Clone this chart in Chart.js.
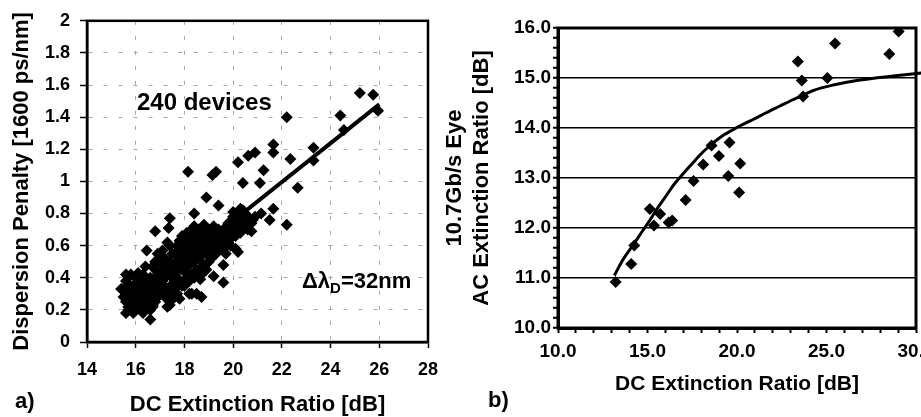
<!DOCTYPE html>
<html>
<head>
<meta charset="utf-8">
<script src="https://cdn.jsdelivr.net/npm/chart.js@4.4.0/dist/chart.umd.min.js"></script>
<style>
  html, body { margin: 0; padding: 0; background: #fff; overflow: hidden; width: 921px; height: 417px; }
  #wrapA { position: absolute; left: 0; top: 0; width: 460px; height: 417px; }
  #wrapB { position: absolute; left: 436px; top: 0; width: 520px; height: 417px; }
  .note { position: absolute; font-family: 'Liberation Sans', Arial, sans-serif; font-weight: bold;
          color: #000; line-height: 1; white-space: nowrap; }
  .note sub { font-size: 15px; vertical-align: -5px; line-height: 1; }
</style>
</head>
<body>
<div id="wrapA"><canvas id="chartA" width="460" height="417"></canvas></div>
<div id="wrapB"><canvas id="chartB" width="520" height="417"></canvas></div>
<div class="note" style="left:137px; top:90px; font-size:24px;">240 devices</div>
<div class="note" style="left:302px; top:270px; font-size:22px;">&Delta;&lambda;<sub>D</sub>=32nm</div>
<div class="note" style="left:15px; top:390px; font-size:22px;">a)</div>
<div class="note" style="left:488px; top:389px; font-size:22px;">b)</div>
<script>
// a) dispersion penalty vs DC extinction ratio, 240 devices  [dc, penalty]
const devicePoints = [
  [25.2,1.55],[25.75,1.54],[22.2,1.40],[24.4,1.41],[24.55,1.32],[25.95,1.44],
  [21.65,1.23],[21.65,1.18],[20.62,1.16],[20.9,1.18],[20.2,1.12],[22.35,1.14],
  [23.3,1.21],[23.3,1.13],[21.25,1.07],[18.15,1.06],[19.15,1.04],[19.3,1.06],
  [20.4,0.99],[21.1,0.99],[22.65,0.96],[18.9,0.9],[19.4,0.85],[18.4,0.8],
  [21.65,0.83],[21.15,0.8],[21.5,0.76],[22.2,0.73],[20.3,0.83],[20.0,0.81],
  [19.2,0.41],[19.6,0.37],[18.7,0.28],[19.6,0.48],[20.1,0.58],[20.2,0.56],
  [20.3,0.68],[20.75,0.69],[20.75,0.74],[15.4,0.33],[15.6,0.18],[16.6,0.14],
  [17.4,0.23],[16.7,0.22],[15.9,0.26],[16.25,0.2],[18.5,0.3],[18.3,0.3],
  [18.65,0.39],[16.45,0.57],[16.8,0.69],[17.4,0.77],[17.35,0.71],
  [15.5,0.33],[15.6,0.38],[15.7,0.3],[15.8,0.42],[15.9,0.35],[15.6,0.25],[15.8,0.22],[15.9,0.28],
  [16.0,0.4],[16.0,0.2],[15.7,0.2],[15.5,0.28],[16.0,0.31],[15.9,0.18],[15.8,0.33],
  [16.1,0.36],[16.2,0.27],[16.3,0.42],[16.4,0.33],[16.2,0.22],[16.5,0.38],[16.1,0.43],[16.3,0.25],
  [16.4,0.2],[16.5,0.3],[16.2,0.4],[16.4,0.47],[16.1,0.3],[16.3,0.35],[16.5,0.24],
  [16.6,0.4],[16.7,0.32],[16.8,0.45],[16.9,0.37],[16.6,0.27],[16.8,0.5],[16.9,0.28],[17.0,0.43],
  [16.7,0.23],[16.8,0.35],[17.0,0.52],[16.9,0.55],[16.6,0.34],[17.0,0.3],[16.7,0.47],[16.8,0.25],
  [17.1,0.38],[17.2,0.46],[17.3,0.33],[17.4,0.5],[17.1,0.57],[17.2,0.28],[17.3,0.42],[17.5,0.36],
  [17.4,0.6],[17.1,0.3],[17.2,0.52],[17.5,0.45],[17.3,0.22],[17.4,0.25],[17.5,0.55],[17.2,0.4],
  [17.3,0.62],[17.1,0.48],
  [17.6,0.42],[17.7,0.5],[17.8,0.38],[17.9,0.58],[17.6,0.33],[17.8,0.63],[17.7,0.3],[17.9,0.45],
  [18.0,0.52],[17.6,0.55],[17.8,0.47],[18.0,0.35],[17.7,0.4],[17.9,0.66],[17.6,0.28],[18.0,0.62],
  [17.8,0.27],[17.7,0.6],
  [18.1,0.48],[18.2,0.56],[18.3,0.42],[18.4,0.62],[18.1,0.68],[18.2,0.38],[18.3,0.7],[18.4,0.5],
  [18.5,0.58],[18.1,0.4],[18.3,0.53],[18.5,0.45],[18.2,0.65],[18.4,0.72],[18.5,0.66],[18.2,0.3],
  [18.4,0.4],
  [18.6,0.52],[18.7,0.6],[18.8,0.48],[18.9,0.67],[18.6,0.7],[18.7,0.42],[18.8,0.73],[18.9,0.55],
  [19.0,0.62],[18.6,0.62],[18.8,0.58],[19.0,0.5],[18.7,0.68],[18.9,0.45],[19.0,0.7],
  [19.1,0.6],[19.2,0.66],[19.3,0.55],[19.4,0.7],[19.1,0.52],[19.3,0.63],[19.2,0.72],[19.4,0.6],
  [19.5,0.66],[19.1,0.68],
  [19.6,0.58],[19.7,0.66],[19.8,0.62],[19.9,0.7],[19.6,0.7],[19.8,0.74],[20.0,0.72],[19.7,0.55],
  [19.9,0.6],[20.0,0.78],
  [20.1,0.74],[20.2,0.8],[20.3,0.7],[20.4,0.76],[20.5,0.72],[20.6,0.78],[20.2,0.68],[20.4,0.82],
  [20.7,0.74],[20.8,0.76],[20.1,0.66],[20.9,0.78],
  [15.6,0.42],[15.7,0.36],[16.0,0.25],[16.2,0.33],[16.3,0.18],[16.6,0.2],[16.9,0.42],[17.0,0.36],
  [17.2,0.34],[17.4,0.3],[17.5,0.4],[17.6,0.48],[17.8,0.55],[17.9,0.35],[18.0,0.44],[18.1,0.58],
  [18.2,0.48],[18.3,0.6],[18.5,0.52],[18.6,0.45],[18.7,0.55],[18.8,0.65],[18.9,0.6],[19.0,0.56],
  [19.2,0.58],[19.3,0.7],[19.5,0.58],[19.6,0.64],[19.8,0.68],[20.0,0.66],[20.3,0.77],[20.5,0.8],
  [16.4,0.28],[16.7,0.38],[17.1,0.44],[17.3,0.5],[17.7,0.45],[18.4,0.55],[16.9,0.33],[17.6,0.38],
  [20.6,0.7]
];
const fitLineDc = [15.5, 26.0];
const fitLinePenalty = [0.21, 1.48];

// b) 10.7Gb/s eye AC extinction ratio vs DC extinction ratio
const eyeDc = [13.22, 14.09, 14.26, 15.13, 15.36, 15.71, 16.18, 16.38, 17.13, 17.57, 18.11, 18.58,
               18.99, 19.58, 19.51, 20.18, 20.12, 23.40, 23.62, 23.69, 25.05, 25.48, 28.51, 29.03];
const eyeAc = [10.92, 11.28, 11.65, 12.38, 12.05, 12.28, 12.11, 12.15, 12.56, 12.94, 13.27, 13.65,
               13.44, 13.71, 13.04, 13.29, 12.71, 15.33, 14.95, 14.63, 15.00, 15.69, 15.48, 15.93];
const curveDc = [13.15, 13.6, 14.2, 14.7, 15.14, 15.6, 16.07, 16.5, 17.0, 17.5, 17.93, 18.4, 18.87,
                 19.3, 19.8, 20.2, 20.9, 21.6, 22.4, 23.15, 23.71, 24.26, 25.38, 26.87, 28.73, 30.3];
const curveAc = [11.05, 11.35, 11.66, 11.93, 12.16, 12.42, 12.66, 12.88, 13.09, 13.29, 13.46, 13.62, 13.76,
                 13.87, 13.97, 14.05, 14.17, 14.30, 14.44, 14.57, 14.66, 14.75, 14.86, 14.96, 15.04, 15.10];

const FONT = "'Liberation Sans', Arial, sans-serif";
Chart.defaults.font.family = FONT;
Chart.defaults.color = '#000';

const boxBorder = {
  id: 'boxBorder',
  afterDatasetsDraw(chart, args, opts) {
    const { ctx, chartArea: a } = chart;
    ctx.save();
    ctx.strokeStyle = '#000';
    ctx.lineWidth = opts.width || 2;
    ctx.strokeRect(a.left, a.top, a.right - a.left, a.bottom - a.top);
    ctx.restore();
  }
};

const isWhole = v => Math.abs(v - Math.round(v)) < 1e-6;

new Chart(document.getElementById('chartA'), {
  type: 'scatter',
  data: {
    datasets: [
      {
        type: 'line',
        data: fitLineDc.map((x, i) => ({ x: x, y: fitLinePenalty[i] })),
        borderColor: '#000', borderWidth: 4, pointRadius: 0, fill: false
      },
      {
        data: devicePoints.map(p => ({ x: p[0], y: p[1] })),
        pointStyle: 'rectRot', pointRadius: 6, backgroundColor: '#000', borderWidth: 0
      }
    ]
  },
  options: {
    responsive: false, animation: false,
    layout: { padding: { left: 0, top: 14, right: 32, bottom: 0 } },
    plugins: { legend: { display: false }, tooltip: { enabled: false }, boxBorder: { width: 2.5 } },
    scales: {
      x: {
        type: 'linear', min: 14, max: 28,
        afterFit: s => { s.height = 75; },
        ticks: { stepSize: 2, autoSkip: false, maxRotation: 0, padding: 11, font: { size: 18, weight: 'bold' } },
        grid: { color: '#a8a8a8', lineWidth: 1, tickColor: '#000', tickWidth: 1.5, tickLength: 6 },
        border: { color: '#000', width: 2.5, dash: [4, 11] },
        title: { display: true, text: 'DC Extinction Ratio [dB]', font: { size: 22, weight: 'bold', lineHeight: 1 },
                 padding: { top: 0, bottom: 1 } }
      },
      y: {
        min: 0, max: 2,
        afterFit: s => { s.width = 87; },
        ticks: { stepSize: 0.2, autoSkip: false, padding: 10, font: { size: 18, weight: 'bold' },
                 callback: v => String(Math.round(v * 10) / 10) },
        grid: { color: '#a8a8a8', lineWidth: 1, tickColor: '#000', tickWidth: 1.5, tickLength: 7 },
        border: { color: '#000', width: 2.5, dash: [4, 11] },
        title: { display: true, text: 'Dispersion Penalty [1600 ps/nm]', font: { size: 22, weight: 'bold', lineHeight: 1 },
                 padding: { top: 11, bottom: 0 } }
      }
    }
  },
  plugins: [boxBorder]
});

new Chart(document.getElementById('chartB'), {
  type: 'scatter',
  data: {
    datasets: [
      {
        type: 'line',
        data: curveDc.map((x, i) => ({ x: x, y: curveAc[i] })),
        borderColor: '#000', borderWidth: 3, pointRadius: 0, fill: false,
        cubicInterpolationMode: 'monotone', clip: false
      },
      {
        data: eyeDc.map((x, i) => ({ x: x, y: eyeAc[i] })),
        pointStyle: 'rectRot', pointRadius: 6, backgroundColor: '#000', borderWidth: 0
      }
    ]
  },
  options: {
    responsive: false, animation: false,
    layout: { padding: { left: 0, top: 28, right: 40, bottom: 0 } },
    plugins: { legend: { display: false }, tooltip: { enabled: false }, boxBorder: { width: 3 } },
    scales: {
      x: {
        type: 'linear', min: 10, max: 30,
        afterFit: s => { s.height = 89; },
        ticks: { stepSize: 1, autoSkip: false, maxRotation: 0, padding: 7, font: { size: 19, weight: 'bold' },
                 callback: v => (v % 5 === 0 ? v.toFixed(1) : '') },
        grid: { drawOnChartArea: false, tickColor: '#000', tickWidth: 2, tickLength: 5 },
        border: { color: '#000', width: 3 },
        title: { display: true, text: 'DC Extinction Ratio [dB]', font: { size: 21, weight: 'bold', lineHeight: 1 },
                 padding: { top: 0, bottom: 22 } }
      },
      y: {
        min: 10, max: 16,
        afterFit: s => { s.width = 122; },
        ticks: { stepSize: 0.2, autoSkip: false, padding: 2, font: { size: 19, weight: 'bold' },
                 callback: v => (isWhole(v) ? v.toFixed(1) : '') },
        grid: { color: c => (isWhole(c.tick.value) ? '#000' : 'rgba(0,0,0,0)'), lineWidth: 1.5,
                tickColor: '#000', tickWidth: 2, tickLength: 5 },
        border: { color: '#000', width: 3 },
        title: { display: true, text: ['10.7Gb/s Eye', 'AC Extinction Ratio [dB]'],
                 font: { size: 22, weight: 'bold', lineHeight: 1.25 }, padding: { top: 5, bottom: 0 } }
      }
    }
  },
  plugins: [boxBorder]
});
</script>
</body>
</html>
